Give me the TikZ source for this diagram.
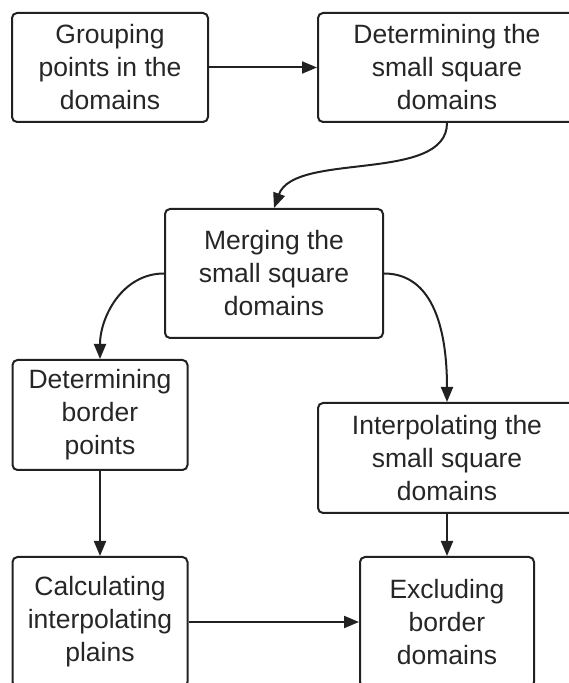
\documentclass[tikz,border=0pt]{standalone}
\usepackage{fontspec}
\setmainfont{Liberation Sans}
\usetikzlibrary{arrows.meta}
\begin{document}
\begin{tikzpicture}[x=1pt,y=1pt,
    box/.style={draw=black!87,line width=2pt,rounded corners=5pt,align=center,
      text=black!85,font=\fontsize{26.5}{33}\selectfont,inner sep=0pt},
    arrow/.style={draw=black!87,line width=2pt,-{Triangle[length=15pt,width=12pt]}}]
      \useasboundingbox (0,0) rectangle (569,683);
      \node[box,minimum width=196,minimum height=109] (grouping) at (110,615.5)
        {Grouping\\points in the\\domains};
      \node[box,minimum width=258,minimum height=109] (squares) at (447,615.5)
        {Determining the\\small square\\domains};
      \node[box,minimum width=218,minimum height=129] (merging) at (274,409.5)
        {Merging the\\small square\\domains};
      \node[box,minimum width=175,minimum height=110] (border) at (100,268)
        {Determining\\border\\points};
      \node[box,minimum width=258,minimum height=110] (interp) at (447,225)
        {Interpolating the\\small square\\domains};
      \node[box,minimum width=175,minimum height=130] (plains) at (100,61)
        {Calculating\\interpolating\\plains};
      \node[box,minimum width=174,minimum height=130] (excluding) at (447,61)
        {Excluding\\border\\domains};
      \begin{scope}[arrow]
        \draw (grouping) -- (squares);
        \draw (squares.south) to[out=-90,in=70,looseness=0.8] (merging.north);
        \draw (merging.west) to[out=180,in=90] (border.north);
        \draw (merging.east) to[out=0,in=90] (interp.north);
        \draw (border) -- (plains);
        \draw (interp) -- (excluding);
        \draw (plains) -- (excluding);
      \end{scope}
    \end{tikzpicture}
\end{document}
